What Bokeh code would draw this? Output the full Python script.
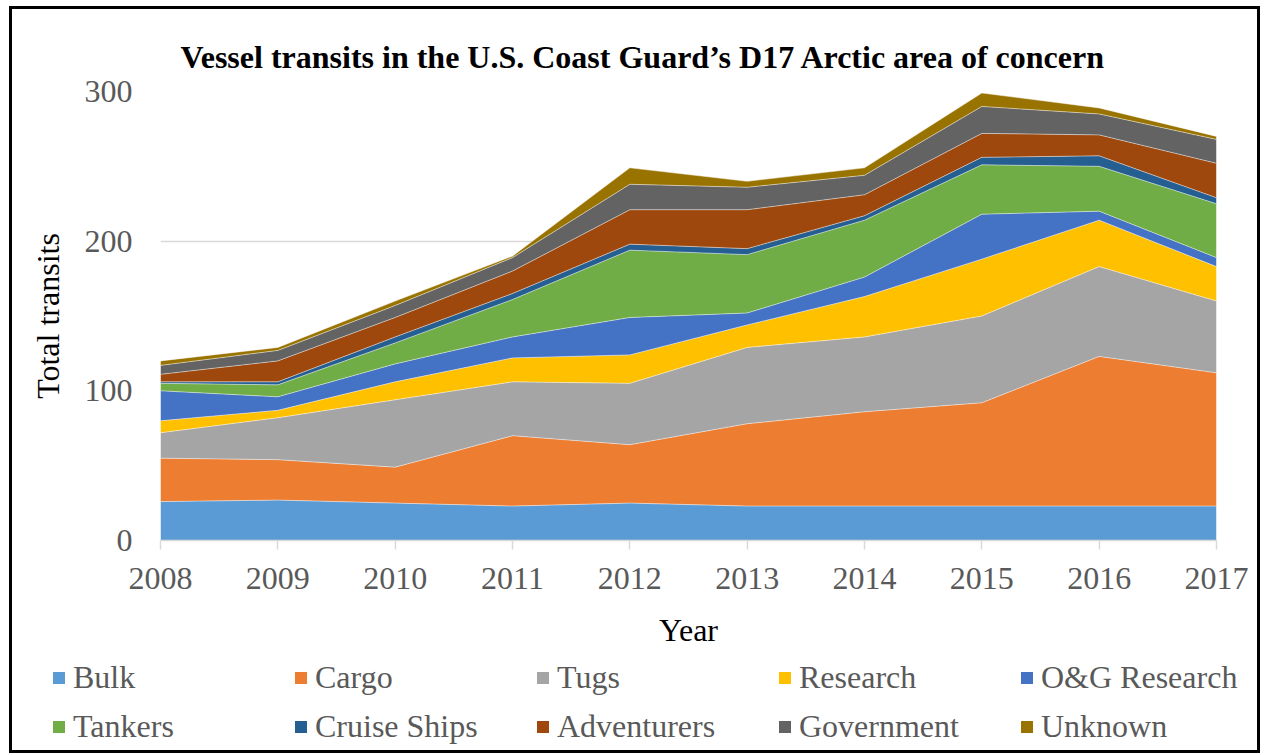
from bokeh.plotting import figure
from bokeh.layouts import column
from bokeh.models import Legend, LegendItem, ColumnDataSource, FixedTicker, Range1d
from bokeh.embed import file_html
from bokeh.resources import INLINE

years = [2008, 2009, 2010, 2011, 2012, 2013, 2014, 2015, 2016, 2017]
bulk = [26, 27, 25, 23, 25, 23, 23, 23, 23, 23]
cargo = [29, 27, 24, 47, 39, 55, 63, 69, 100, 89]
tugs = [17, 28, 45, 36, 41, 51, 50, 58, 60, 48]
research = [8, 5, 12, 16, 19, 15, 27, 38, 31, 23]
og_research = [20, 9, 12, 14, 25, 8, 13, 30, 6, 6]
tankers = [5, 8, 14, 25, 45, 39, 38, 33, 30, 36]
cruise = [1, 2, 4, 4, 4, 4, 3, 5, 7, 4]
adventurers = [5, 14, 13, 15, 23, 26, 14, 16, 14, 23]
government = [6, 7, 8, 9, 17, 15, 13, 18, 14, 16]
unknown = [3, 2, 3, 1, 11, 4, 5, 9, 4, 2]

names = ["Bulk", "Cargo", "Tugs", "Research", "O&G Research",
         "Tankers", "Cruise Ships", "Adventurers", "Government", "Unknown"]
series = [bulk, cargo, tugs, research, og_research,
          tankers, cruise, adventurers, government, unknown]
colors = ["#5B9BD5", "#ED7D31", "#A5A5A5", "#FFC000", "#4472C4",
          "#70AD47", "#255E91", "#9E480E", "#636363", "#997300"]
y_ticks = [0, 100, 200, 300]

FONT = "Liberation Serif"

data = {"year": years}
for n, s in zip(names, series):
    data[n] = s
source = ColumnDataSource(data)

W = 1245
p = figure(width=W, height=645, output_backend="svg", toolbar_location=None,
           x_range=Range1d(2008, 2017), y_range=Range1d(0, 300),
           min_border_left=148, min_border_right=41, min_border_top=82,
           min_border_bottom=114)
p.frame_align = False

renderers = p.varea_stack(stackers=names, x="year", color=colors, source=source)

# thin light separators between stacked areas
cum = [0] * len(years)
for s in series:
    cum = [a + b for a, b in zip(cum, s)]
    p.line(years, cum, line_color="white", line_width=0.8, line_alpha=0.6)

p.title.text = "Vessel transits in the U.S. Coast Guard’s D17 Arctic area of concern"
p.title.text_font = FONT
p.title.text_font_size = "32px"
p.title.text_font_style = "bold"
p.title.text_color = "black"
p.title.align = "left"
p.title.offset = 20
p.title.standoff = 34

p.outline_line_color = None
p.xgrid.grid_line_color = None
p.ygrid.grid_line_color = "#d9d9d9"
p.ygrid.grid_line_width = 1.3

p.xaxis.ticker = FixedTicker(ticks=years)
p.yaxis.ticker = FixedTicker(ticks=y_ticks)
p.xaxis.axis_label = "Year"
p.yaxis.axis_label = "Total transits"

for ax in (p.xaxis, p.yaxis):
    ax.axis_label_text_font = FONT
    ax.axis_label_text_font_size = "32px"
    ax.axis_label_text_font_style = "normal"
    ax.axis_label_text_color = "black"
    ax.major_label_text_font = FONT
    ax.major_label_text_font_size = "32px"
    ax.major_label_text_color = "#595959"
    ax.minor_tick_line_color = None

p.xaxis.axis_line_color = "#d9d9d9"
p.xaxis.axis_line_width = 1.5
p.xaxis.major_tick_line_color = "#d9d9d9"
p.xaxis.major_tick_line_width = 1.5
p.xaxis.major_tick_out = 9
p.xaxis.major_tick_in = 0
p.xaxis.major_label_standoff = 18
p.xaxis.axis_label_standoff = 20

p.yaxis.axis_line_color = None
p.yaxis.major_tick_line_color = None
p.yaxis.major_label_standoff = 22
p.yaxis.axis_label_standoff = 16

# legend strip: same series, drawn outside its (empty) view, used only for the legend
q = figure(width=W, height=96, output_backend="svg", toolbar_location=None,
           x_range=Range1d(0, 1), y_range=Range1d(0, 1),
           x_axis_location=None, y_axis_location=None,
           min_border_left=0, min_border_right=0, min_border_top=0,
           min_border_bottom=0)
q.frame_align = False
q.grid.grid_line_color = None
q.outline_line_color = None
leg_renderers = q.varea_stack(stackers=names, x="year", color=colors, source=source)

items = [LegendItem(label=n, renderers=[r]) for n, r in zip(names, leg_renderers)]
legend = Legend(items=items, ncols=5, orientation="horizontal", location=(39, 5),
                label_text_font=FONT, label_text_font_size="32px",
                label_text_color="#595959", glyph_width=15, glyph_height=15,
                label_standoff=7, label_width=208, spacing=12, padding=0,
                margin=0, border_line_color=None, background_fill_alpha=0)
q.add_layout(legend, "center")

layout = column(p, q, spacing=0)
layout.styles = {"border": "3px solid black", "margin-left": "9px", "margin-top": "6px"}

open("out.html", "w").write(file_html(layout, INLINE))
